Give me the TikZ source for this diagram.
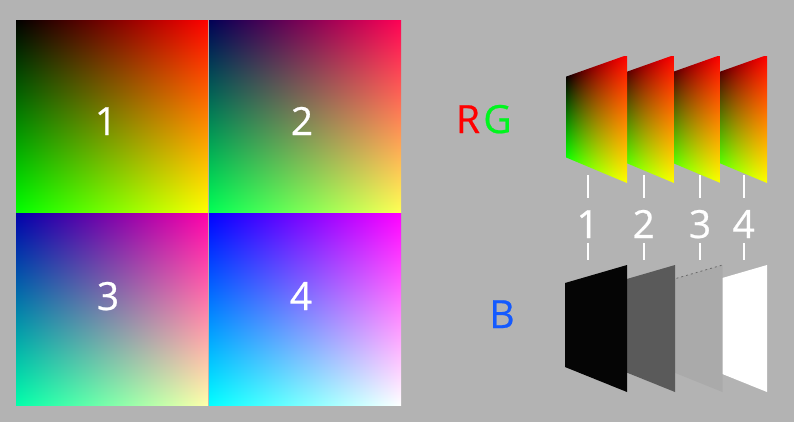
\documentclass[tikz,border=0pt]{standalone}
\usepackage{fontspec}
\setmainfont[FakeBold=0.6]{Open Sans}
\definecolor{bg}{RGB}{179,179,179}
\definecolor{labR}{RGB}{255,0,0}
\definecolor{labG}{RGB}{0,245,30}
\definecolor{labB}{RGB}{20,90,255}
\definecolor{gA}{RGB}{5,5,5}
\definecolor{gB}{RGB}{90,90,90}
\definecolor{gC}{RGB}{170,170,170}
\definecolor{gD}{RGB}{255,255,255}
\pgfdeclarefunctionalshading{sqA}{\pgfpointorigin}{\pgfpoint{193bp}{193bp}}{}{exch 193 div exch 193 div 1 exch sub 0}
\pgfdeclarefunctionalshading{sqB}{\pgfpointorigin}{\pgfpoint{193bp}{193bp}}{}{exch 193 div exch 193 div 1 exch sub 0.3333}
\pgfdeclarefunctionalshading{sqC}{\pgfpointorigin}{\pgfpoint{193bp}{193bp}}{}{exch 193 div exch 193 div 1 exch sub 0.6667}
\pgfdeclarefunctionalshading{sqD}{\pgfpointorigin}{\pgfpoint{193bp}{193bp}}{}{exch 193 div exch 193 div 1 exch sub 1}
\pgfdeclarefunctionalshading{rgpanel}{\pgfpointorigin}{\pgfpoint{62bp}{128bp}}{}{exch 62 div exch 1 index 22 mul 106 add exch sub 1 index 48 mul 80 add div exch dup 128 mul exch 48 mul 80 add div exch 0}
\tikzset{
  bigtxt/.style={font=\fontsize{39}{39}\selectfont, inner sep=0, anchor=base},
  shadebox/.style={inner sep=0, outer sep=0},
  tick/.style={draw=white, line width=2bp},
}
\begin{document}
\begin{tikzpicture}[x=1bp,y=-1bp]
\useasboundingbox (0,0) rectangle (794,422);
\fill[bg] (0,0) rectangle (794,422);
% four squares
\node[shadebox, anchor=north west] (s1) at (15,19) {\pgfuseshading{sqA}};
\node[shadebox, anchor=north west] (s2) at (208,19) {\pgfuseshading{sqB}};
\node[shadebox, anchor=north west] (s3) at (15,212) {\pgfuseshading{sqC}};
\node[shadebox, anchor=north west] (s4) at (208,212) {\pgfuseshading{sqD}};
\node[bigtxt, text=white] (n1) at (106,135) {1};
\node[bigtxt, text=white] (n2) at (302,135) {2};
\node[bigtxt, text=white] (n3) at (108,310) {3};
\node[bigtxt, text=white] (n4) at (301,310) {4};
% labels
\node[bigtxt, text=labR] (lr) at (468,133) {R};
\node[bigtxt, text=labG] (lg) at (497.5,133) {G};
\node[bigtxt, text=labB] (lb) at (502,328) {B};
% RG panels, back to front
\foreach \dx/\nm in {140/rg4, 93.5/rg3, 47/rg2, 0/rg1}{
  \begin{scope}[xshift=\dx bp]
    \clip (565,77) -- (627,55) -- (627,183) -- (565,157) -- cycle;
    \node[shadebox, anchor=north east] (\nm) at (627,55) {\pgfuseshading{rgpanel}};
  \end{scope}
}
% B panels, back to front
\fill[gD] (705,283) -- (767,265) -- (767,392) -- (705,367) -- cycle;
\fill[gC] (660.5,283) -- (722.5,265) -- (722.5,392) -- (660.5,367) -- cycle;
\draw[gray!85!black, line width=0.8bp, dash pattern=on 2bp off 3bp] (662,282.5) -- (722.5,265);
\fill[gB] (613,283) -- (675,265) -- (675,392) -- (613,367) -- cycle;
\fill[gA] (565,283) -- (627,265) -- (627,392) -- (565,367) -- cycle;
% ticks and numbers
\foreach \x/\t/\nm in {587.7/1/c1, 643.7/2/c2, 700/3/c3, 743.7/4/c4}{
  \coordinate (\nm a) at (\x,175);
  \coordinate (\nm b) at (\x,198);
  \coordinate (\nm c) at (\x,243);
  \coordinate (\nm d) at (\x,260);
  \draw[tick] (\nm a) -- (\nm b);
  \draw[tick] (\nm c) -- (\nm d);
  \node[bigtxt, text=white] (\nm) at (\x,238) {\t};
}
\end{tikzpicture}
\end{document}
